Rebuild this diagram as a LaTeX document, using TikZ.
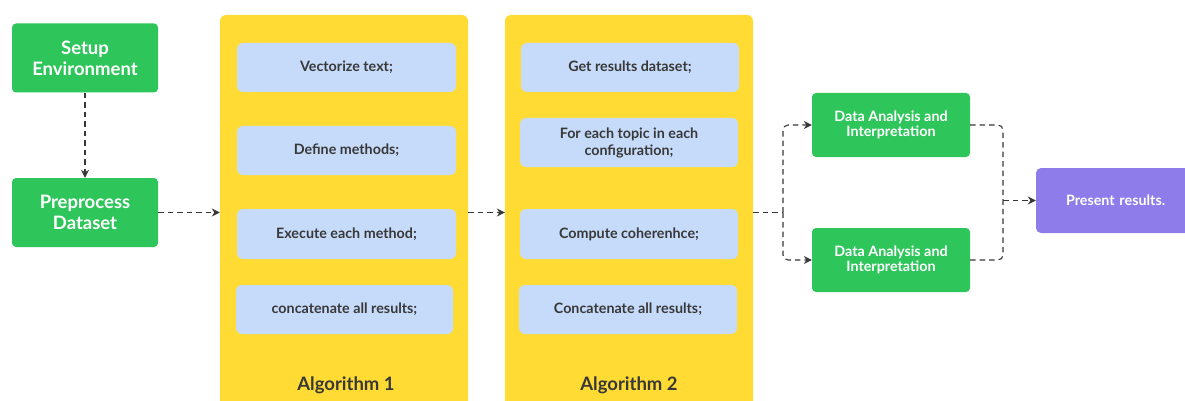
\documentclass[tikz,border=0pt]{standalone}
\usepackage{fontspec}
\setmainfont{Lato}
\usetikzlibrary{arrows.meta,calc}
\definecolor{grn}{HTML}{2EC55B}
\definecolor{ylw}{HTML}{FFDB33}
\definecolor{lblue}{HTML}{C6DBFA}
\definecolor{purp}{HTML}{8E7CEB}
\definecolor{ink}{HTML}{383838}
\tikzset{
  greenbox/.style={fill=grn, rounded corners=4pt, text=white, align=center, font=\bfseries\fontsize{18.5}{21}\selectfont, inner sep=0pt},
  dabox/.style={fill=grn, rounded corners=4pt, text=white, align=center, font=\bfseries\fontsize{14.3}{15.5}\selectfont, inner sep=0pt, minimum width=158pt, minimum height=64pt},
  algobox/.style={fill=ylw, rounded corners=6pt, inner sep=0pt, minimum width=248pt, minimum height=400pt},
  stepbox/.style={fill=lblue, rounded corners=6pt, text=ink, align=center, font=\bfseries\fontsize{14.3}{17}\selectfont, inner sep=0pt, minimum height=49pt},
  algolabel/.style={text=ink, font=\bfseries\fontsize{18.5}{20}\selectfont},
  conn/.style={draw=ink, line width=1.1pt, dash pattern=on 5.5pt off 4pt, -{Stealth[length=8pt,width=8pt]}},
  connplain/.style={draw=ink, line width=1.1pt, dash pattern=on 5.5pt off 4pt},
}
\begin{document}
\begin{tikzpicture}[x=1pt,y=-1pt]
\useasboundingbox (0,0) rectangle (1185,401);
\begin{scope}
\clip (0,0) rectangle (1185,401);
\node[algobox] (A1) at (344,215) {};
\node[algobox] (A2) at (629,215) {};
\end{scope}
\node[algolabel] (L1) at (346,385) {Algorithm 1};
\node[algolabel] (L2) at (629,385) {Algorithm 2};

\node[greenbox, minimum width=146pt, minimum height=69pt] (S) at (85,58) {Setup\\Environment};
\node[greenbox, minimum width=146pt, minimum height=69pt] (P) at (85,212.5) {Preprocess\\Dataset};

\node[stepbox, minimum width=219pt] (V) at (346.5,67.5) {Vectorize text;};
\node[stepbox, minimum width=219pt] (D) at (346.5,150.5) {Define methods;};
\node[stepbox, minimum width=219pt, minimum height=50pt] (E) at (346.5,234) {Execute each method;};
\node[stepbox, minimum width=217pt] (C) at (344.5,309.5) {concatenate all results;};

\node[stepbox, minimum width=218pt] (G) at (630,67.5) {Get results dataset;};
\node[stepbox, minimum width=218pt] (F) at (629,142.5) {For each topic in each\\configuration;};
\node[stepbox, minimum width=218pt, minimum height=50pt] (Co) at (629,234) {Compute coherenhce;};
\node[stepbox, minimum width=218pt] (Ca) at (628,309.5) {Concatenate all results;};

\node[dabox] (DA1) at (891,125) {Data Analysis and\\Interpretation};
\node[dabox] (DA2) at (891,260) {Data Analysis and\\Interpretation};
\node[fill=purp, rounded corners=5pt, text=white, font=\bfseries\fontsize{14.3}{16}\selectfont, minimum width=170pt, minimum height=65pt, inner sep=0pt, text width=150pt, align=left] (PR) at (1121,200.5) {\hspace*{20pt}Present results.};

\coordinate (J1) at (783,212.5);
\coordinate (J2) at (1003,200.5);

\draw[conn] (S.south) -- (P.north);
\draw[conn] (P.east) -- (P.east -| A1.west);
\draw[conn] (P.east -| A1.east) -- (P.east -| A2.west);
\draw[connplain] (P.east -| A2.east) -- (J1);
\draw[conn, rounded corners=5pt] (J1) |- (DA1.west);
\draw[conn, rounded corners=5pt] (J1) |- (DA2.west);
\draw[connplain, rounded corners=5pt] (DA1.east) -| (J2);
\draw[connplain, rounded corners=5pt] (DA2.east) -| (J2);
\draw[conn] (J2) -- (PR.west);
\end{tikzpicture}
\end{document}
